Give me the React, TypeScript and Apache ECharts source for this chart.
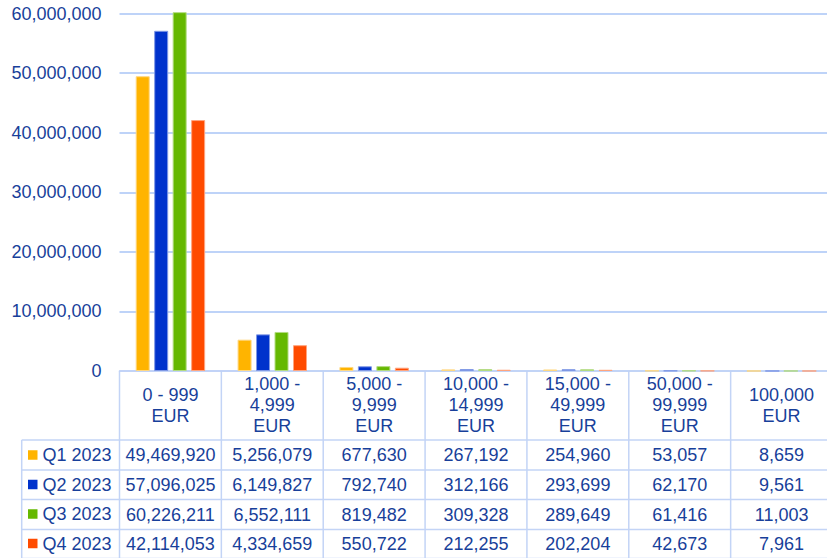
import React, { useEffect, useRef } from "react";
import * as echarts from "echarts";

const categories = [
  "0 - 999\nEUR",
  "1,000 -\n4,999\nEUR",
  "5,000 -\n9,999\nEUR",
  "10,000 -\n14,999\nEUR",
  "15,000 -\n49,999\nEUR",
  "50,000 -\n99,999\nEUR",
  "100,000\nEUR",
];
const seriesNames = ["Q1 2023", "Q2 2023", "Q3 2023", "Q4 2023"];
const q1 = [49469920, 5256079, 677630, 267192, 254960, 53057, 8659];
const q2 = [57096025, 6149827, 792740, 312166, 293699, 62170, 9561];
const q3 = [60226211, 6552111, 819482, 309328, 289649, 61416, 11003];
const q4 = [42114053, 4334659, 550722, 212255, 202204, 42673, 7961];
const seriesValues = [q1, q2, q3, q4];
const yMin = 0;
const yMax = 60000000;
const yInterval = 10000000;

const colors = ["#FFB400", "#0032CC", "#65B800", "#FF4B00"];
const borders = ["#FFD780", "#7F98E5", "#B2DB80", "#FFA57F"];
const textColor = "#183F9A";
const fontFamily = "'Liberation Sans', Arial, sans-serif";
const tableLine = "#C3D4F6";

const fmt = (v: number) => v.toLocaleString("en-US");

export default function App() {
  const ref = useRef<HTMLDivElement>(null);
  useEffect(() => {
    if (!ref.current) return;
    const chart = echarts.init(ref.current, null, { renderer: "svg" });

    const gridLeft = 119.5;
    const gridTop = 13.5;
    const gridWidth = 713;
    const gridHeight = 357.5;
    const catW = gridWidth / categories.length;
    const baseY = gridTop + gridHeight;
    const rowMargins = [84, 114, 143.5, 172.5];
    const hLines = [440, 470, 499.5, 529.5, 558.5];
    const tableLeft = 21.7;

    const graphics: any[] = [];
    hLines.forEach((y) =>
      graphics.push({
        type: "line",
        shape: { x1: tableLeft, y1: y, x2: 827, y2: y },
        style: { stroke: tableLine, lineWidth: 1.5 },
        silent: true,
      })
    );
    for (let k = 0; k < categories.length; k++) {
      const x = gridLeft + k * catW;
      graphics.push({
        type: "line",
        shape: { x1: x, y1: baseY, x2: x, y2: 560 },
        style: { stroke: tableLine, lineWidth: 1.5 },
        silent: true,
      });
    }
    graphics.push({
      type: "line",
      shape: { x1: tableLeft, y1: hLines[0], x2: tableLeft, y2: 560 },
      style: { stroke: tableLine, lineWidth: 1.5 },
      silent: true,
    });

    const labelBase = {
      interval: 0,
      hideOverlap: false,
      color: textColor,
      fontSize: 18,
      fontFamily,
      verticalAlign: "middle",
    };

    const xAxes: any[] = [
      {
        type: "category",
        data: categories,
        position: "bottom",
        axisLine: { show: true, lineStyle: { color: tableLine, width: 1.5 } },
        axisTick: { show: false },
        splitLine: { show: false },
        axisLabel: { ...labelBase, margin: 34, lineHeight: 21 },
      },
      ...seriesValues.map((vals, i) => ({
        type: "category",
        data: vals.map(fmt),
        position: "bottom",
        axisLine: { show: false },
        axisTick: { show: false },
        splitLine: { show: false },
        axisLabel: { ...labelBase, margin: rowMargins[i] },
      })),
    ];

    chart.setOption({
      animation: false,
      grid: {
        left: gridLeft,
        top: gridTop,
        width: gridWidth,
        height: gridHeight,
        containLabel: false,
        outerBoundsMode: "none",
      },
      legend: {
        orient: "vertical",
        left: 28,
        top: 445,
        padding: 0,
        itemWidth: 9.5,
        itemHeight: 9.5,
        itemGap: 9.5,
        icon: "rect",
        itemStyle: { borderWidth: 0 },
        textStyle: { color: textColor, fontSize: 18, fontFamily, lineHeight: 20 },
        data: seriesNames,
        selectedMode: false,
      },
      xAxis: xAxes,
      yAxis: {
        type: "value",
        min: yMin,
        max: yMax,
        interval: yInterval,
        axisLine: { show: false },
        axisTick: { show: false },
        axisLabel: {
          color: textColor,
          fontSize: 18,
          fontFamily,
          margin: 18,
          formatter: (v: number) => fmt(v),
        },
        splitLine: { lineStyle: { color: "#A9C4F6", width: 1.5 } },
      },
      series: seriesNames.map((name, i) => ({
        name,
        type: "bar",
        xAxisIndex: 0,
        data: seriesValues[i],
        barWidth: 14,
        barGap: "32%",
        clip: false,
        itemStyle: { color: colors[i], borderColor: borders[i], borderWidth: 1 },
      })),
      graphic: graphics,
    });
    return () => chart.dispose();
  }, []);
  return (
    <div
      ref={ref}
      style={{ position: "absolute", left: 0, top: 0, width: 827, height: 558 }}
    />
  );
}
